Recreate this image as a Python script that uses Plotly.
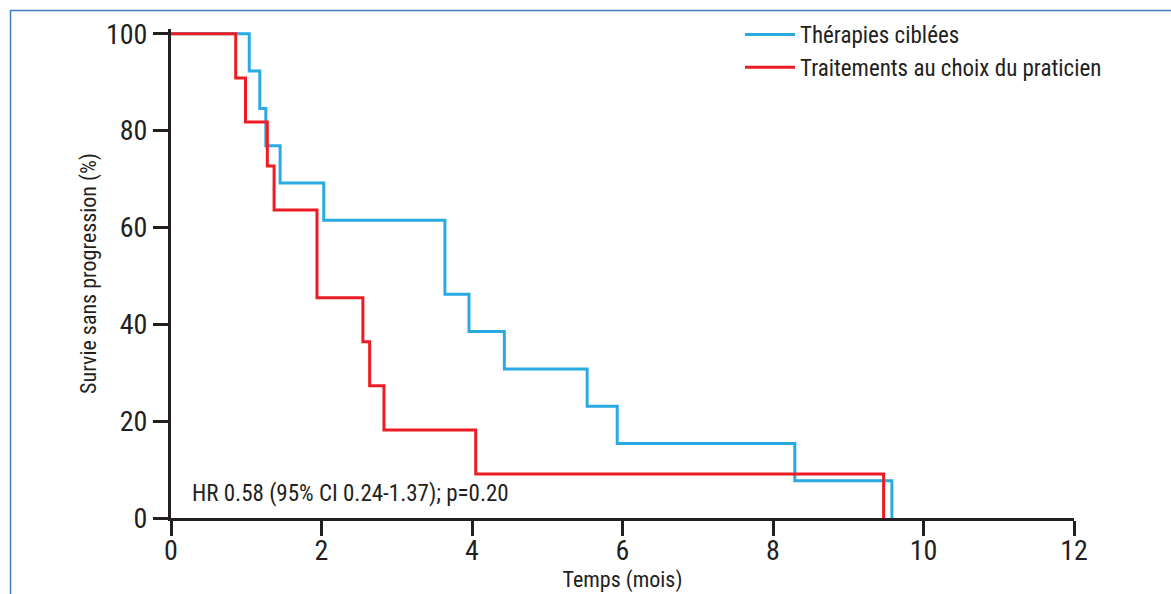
import plotly.graph_objects as go

# Kaplan-Meier data (months, % survival)
blue_name = "Thérapies ciblées"
blue_t = [0, 1.04, 1.18, 1.26, 1.45, 2.03, 3.64, 3.96, 4.43, 5.53, 5.93, 8.29, 9.58]
blue_s = [100, 92.3, 84.6, 76.9, 69.2, 61.5, 46.2, 38.5, 30.8, 23.1, 15.4, 7.7, 0]

red_name = "Traitements au choix du praticien"
red_t = [0, 0.86, 0.99, 1.28, 1.37, 1.94, 2.55, 2.64, 2.83, 4.05, 9.47]
red_s = [100, 90.9, 81.8, 72.7, 63.6, 45.5, 36.4, 27.3, 18.2, 9.1, 0]

x_ticks = [0, 2, 4, 6, 8, 10, 12]
y_ticks = [0, 20, 40, 60, 80, 100]
annotation_text = "HR 0.58 (95% CI 0.24-1.37); p=0.20"

FONT = "Liberation Sans Narrow, Roboto Condensed, Arial Narrow, Liberation Sans, sans-serif"
INK = "#231f20"
BLUE = "#29abe2"
RED = "#ed1c24"
FRAME = "#3b7fc4"

W, H = 1171, 594
L, R, T, B = 171, 97, 29, 76

fig = go.Figure()
fig.add_trace(go.Scatter(x=blue_t, y=blue_s, mode="lines", name=blue_name,
                         line=dict(color=BLUE, width=3, shape="hv")))
fig.add_trace(go.Scatter(x=red_t, y=red_s, mode="lines", name=red_name,
                         line=dict(color=RED, width=3, shape="hv")))

fig.add_annotation(x=0.25, y=5.0, xref="x", yref="y", text=annotation_text,
                   showarrow=False, xanchor="left", yanchor="middle",
                   font=dict(family=FONT, size=23, color=INK))

# outer frame (top and left edges)
pw, ph = W - L - R, H - T - B
def px_to_paper_x(px):
    return (px - L) / pw
def px_to_paper_y(py):
    return 1 - (py - T) / ph

fig.add_shape(type="line", xref="paper", yref="paper",
              x0=px_to_paper_x(10), x1=px_to_paper_x(W + 5),
              y0=px_to_paper_y(10.5), y1=px_to_paper_y(10.5),
              line=dict(color=FRAME, width=1.5))
fig.add_shape(type="line", xref="paper", yref="paper",
              x0=px_to_paper_x(10.5), x1=px_to_paper_x(10.5),
              y0=px_to_paper_y(10), y1=px_to_paper_y(H + 5),
              line=dict(color=FRAME, width=1.5))

fig.update_layout(
    width=W, height=H,
    margin=dict(l=L, r=R, t=T, b=B, pad=0, autoexpand=False),
    paper_bgcolor="white", plot_bgcolor="white",
    font=dict(family=FONT, color=INK),
    legend=dict(x=px_to_paper_x(740), y=px_to_paper_y(13), xanchor="left", yanchor="top",
                font=dict(family=FONT, size=23, color=INK),
                bgcolor="rgba(0,0,0,0)", tracegroupgap=0, itemwidth=50),
    showlegend=True,
)
fig.update_xaxes(range=[0, 12], tickvals=x_ticks, ticktext=[str(v) for v in x_ticks],
                 automargin=False,
                 showgrid=False, zeroline=False, showline=True, linecolor=INK, linewidth=3,
                 ticks="outside", ticklen=15, tickwidth=3, tickcolor=INK,
                 tickfont=dict(family=FONT, size=28, color=INK), ticklabelstandoff=-10,
                 title=dict(text="Temps (mois)", font=dict(family=FONT, size=22, color=INK), standoff=0))
fig.update_yaxes(range=[0, 101], tickvals=y_ticks, ticktext=[str(v) for v in y_ticks],
                 automargin=False,
                 showgrid=False, zeroline=False, showline=True, linecolor=INK, linewidth=3,
                 ticks="outside", ticklen=15, tickwidth=3, tickcolor=INK,
                 tickfont=dict(family=FONT, size=28, color=INK),
                 title=dict(text="Survie sans progression (%)", font=dict(family=FONT, size=22, color=INK), standoff=4))

fig.write_html("out.html")
